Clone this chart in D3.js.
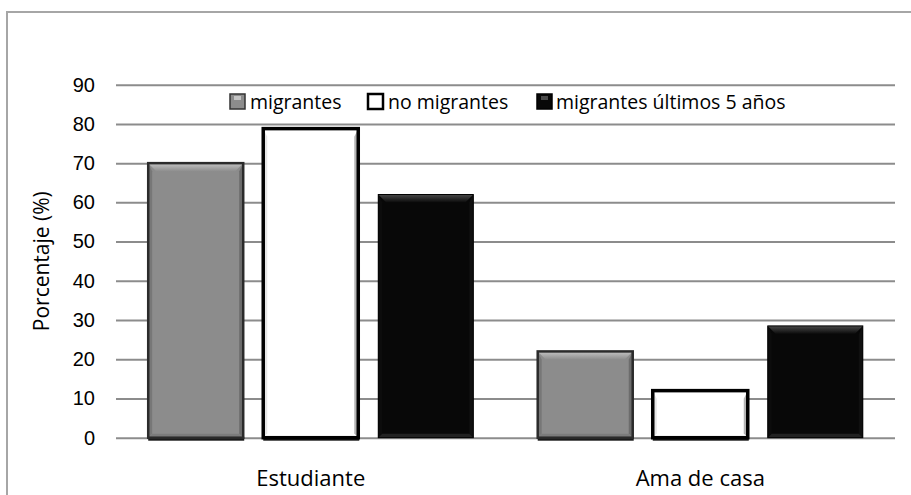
<!DOCTYPE html>
<html>
<head>
<meta charset="utf-8">
<script src="https://cdnjs.cloudflare.com/ajax/libs/d3/7.8.5/d3.min.js"></script>
<style>
  body { margin: 0; background: #fff; }
  svg { display: block; font-family: "Open Sans", sans-serif; }
  .grid line { stroke: #8c8c8c; stroke-width: 2; }
  .grid text { font-size: 20px; fill: #000; }
</style>
</head>
<body>
<div id="chart"></div>
<script>
// --- data ---
const categories = ["Estudiante", "Ama de casa"];
const seriesNames = ["migrantes", "no migrantes", "migrantes últimos 5 años"];
const migrantes = [70, 22];
const noMigrantes = [78.8, 12];
const migrantesUltimos5 = [62, 28.5];
const yTicks = [0, 10, 20, 30, 40, 50, 60, 70, 80, 90];

// bevel colours for each series: main, top, left, right, bottom, outline
const looks = [
    { main: "#8c8c8c", top: ["#c4c4c4", "#8e8e8e"], left: "#777", right: "#6c6c6c", bottom: "#7c7c7c", stroke: "#2b2b2b", sw: 2.5, shadow: true },
    { main: "#ffffff", top: ["#ffffff", "#ffffff"], left: "#e6e6e6", right: "#b4b4b4", bottom: "#ffffff", stroke: "#000", sw: 3.5, shadow: true },
    { main: "#080808", top: ["#4a4a4a", "#0a0a0a"], left: "#0c0c0c", right: "#101010", bottom: "#222", stroke: "#000", sw: 1, shadow: false }
];

const W = 911, H = 495;
const margin = { top: 84.7, right: 16, bottom: 57.3, left: 116 };
const width = W - margin.left - margin.right;
const height = H - margin.top - margin.bottom;

const svg = d3.select("#chart").append("svg")
    .attr("width", W).attr("height", H);

// chart area border (runs off right and bottom)
svg.append("rect")
    .attr("x", 7).attr("y", 12)
    .attr("width", 930).attr("height", 520)
    .attr("fill", "none").attr("stroke", "#a6a6a6").attr("stroke-width", 2);

const defs = svg.append("defs");
looks.forEach((lk, i) => {
    const gr = defs.append("linearGradient").attr("id", "top" + i)
        .attr("x1", 0).attr("y1", 0).attr("x2", 0).attr("y2", 1);
    gr.append("stop").attr("offset", "0%").attr("stop-color", lk.top[0]);
    gr.append("stop").attr("offset", "100%").attr("stop-color", lk.top[1]);
});

const g = svg.append("g").attr("transform", `translate(${margin.left},${margin.top})`);

const y = d3.scaleLinear().domain([0, 90]).range([height, 0]);
const x0 = d3.scaleBand().domain(categories).range([0, width]).paddingInner(0).paddingOuter(0);
const x1 = d3.scaleBand().domain(seriesNames).range([0, x0.bandwidth()])
    .paddingInner(0.174).paddingOuter(0.28);

// gridlines + y labels
g.append("g")
    .attr("class", "grid")
    .call(d3.axisLeft(y).tickValues(yTicks).tickSize(-width).tickPadding(21))
    .call(a => a.select(".domain").remove());

const rows = [];
categories.forEach((c, ci) => {
    [migrantes, noMigrantes, migrantesUltimos5].forEach((arr, si) => {
        rows.push({ cat: c, series: seriesNames[si], si: si, value: arr[ci] });
    });
});

// bars drawn with a bevel look
const bars = g.append("g").selectAll("g.bar").data(rows).join("g").attr("class", "bar");

bars.each(function (d) {
    const lk = looks[d.si];
    const bx = x0(d.cat) + x1(d.series);
    const bw = x1.bandwidth();
    const by = y(d.value);
    const bh = y(0) - by;
    const bt = Math.min(8, bh / 3);   // top bevel
    const bs = 4;                      // side / bottom bevel
    const sel = d3.select(this);

    if (lk.shadow) {
        sel.append("rect")
            .attr("x", bx).attr("y", y(0) - 1)
            .attr("width", bw + 1).attr("height", 4)
            .attr("fill", "#1a1a1a");
    }
    sel.append("rect")
        .attr("x", bx).attr("y", by).attr("width", bw).attr("height", bh)
        .attr("fill", lk.main);
    const poly = pts => sel.append("polygon").attr("points", pts.map(p => p.join(",")).join(" "));
    poly([[bx, by], [bx + bs, by + bt], [bx + bs, by + bh - bs], [bx, by + bh]]).attr("fill", lk.left);
    poly([[bx + bw, by], [bx + bw - bs, by + bt], [bx + bw - bs, by + bh - bs], [bx + bw, by + bh]]).attr("fill", lk.right);
    poly([[bx, by + bh], [bx + bs, by + bh - bs], [bx + bw - bs, by + bh - bs], [bx + bw, by + bh]]).attr("fill", lk.bottom);
    poly([[bx, by], [bx + bw, by], [bx + bw - bt, by + bt], [bx + bt, by + bt]]).attr("fill", `url(#top${d.si})`);
    sel.append("rect")
        .attr("x", bx).attr("y", by).attr("width", bw).attr("height", bh)
        .attr("fill", "none").attr("stroke", lk.stroke).attr("stroke-width", lk.sw);
});

// category labels
g.append("g").selectAll("text").data(categories).join("text")
    .attr("x", d => x0(d) + x0.bandwidth() / 2)
    .attr("y", height + 48)
    .attr("text-anchor", "middle")
    .attr("font-size", 22)
    .text(d => d);

// y axis title
svg.append("text")
    .attr("transform", `translate(49,${margin.top + height / 2}) rotate(-90)`)
    .attr("text-anchor", "middle")
    .attr("font-size", 21)
    .text("Porcentaje (%)");

// legend
const legendX = [229, 367, 536];
const legend = svg.append("g").selectAll("g").data(seriesNames).join("g")
    .attr("transform", (d, i) => `translate(${legendX[i]},93)`);
legend.append("rect")
    .attr("x", 1).attr("y", 1).attr("width", 15).attr("height", 15)
    .attr("fill", (d, i) => looks[i].main)
    .attr("stroke", (d, i) => i === 0 ? "#333" : "#000")
    .attr("stroke-width", (d, i) => i === 1 ? 2.5 : 1.5);
legend.append("rect")
    .attr("x", 5).attr("y", 3).attr("width", 7).attr("height", 4)
    .attr("fill", (d, i) => looks[i].top[0]);
legend.append("text")
    .attr("x", (d, i) => i === 2 ? 20 : 21)
    .attr("y", 15.5)
    .attr("font-size", 19.5)
    .text(d => d);
</script>
</body>
</html>
